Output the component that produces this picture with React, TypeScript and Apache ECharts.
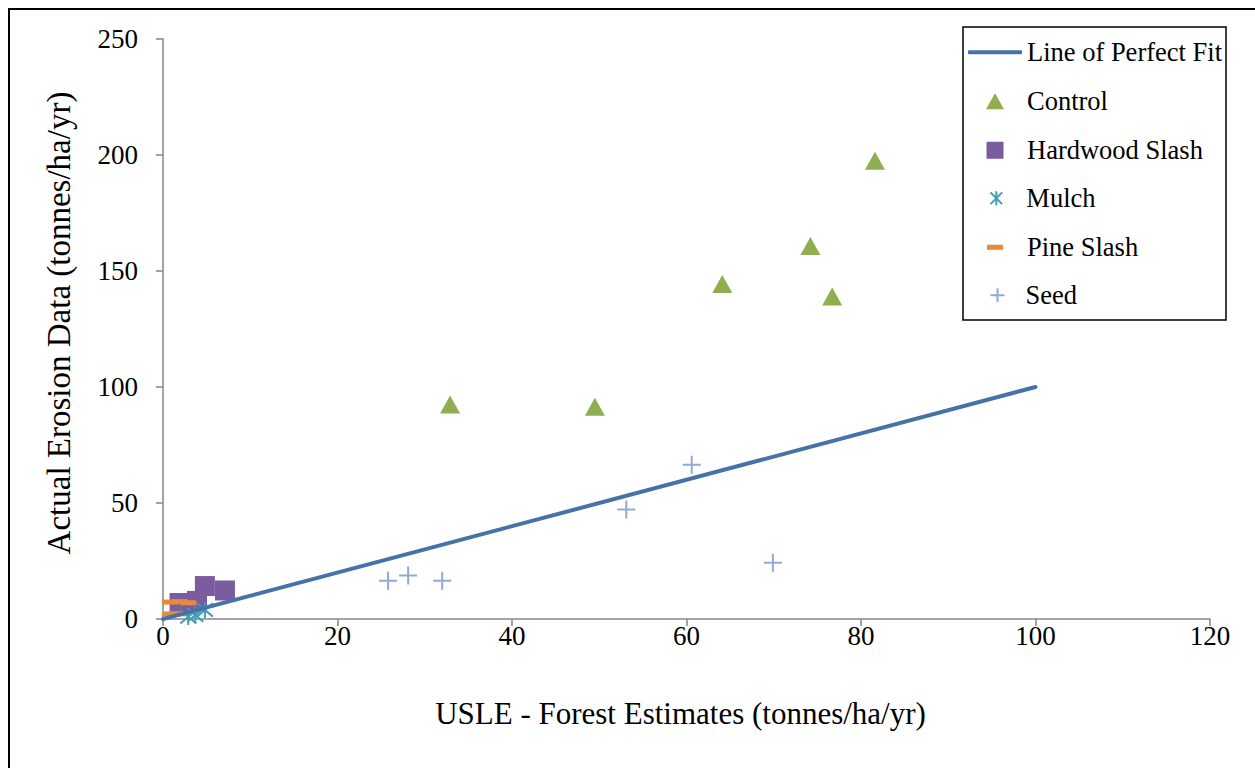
import React, { useEffect, useRef } from "react";
import * as echarts from "echarts";

const fitLine: [number, number][] = [[0, 0], [100, 100]];
const control: [number, number][] = [[32.9, 92.5], [49.5, 91.5], [64.1, 144.4], [74.2, 160.8], [76.7, 139], [81.6, 197.5]];
const hardwood: [number, number][] = [[1.9, 6.9], [3.9, 7.8], [4.8, 14.2], [7.1, 12.3]];
const mulch: [number, number][] = [[2.9, 0.9], [3.7, 1.7], [4.8, 3.9]];
const pine: [number, number][] = [[0.8, 7.3], [1.9, 7.5], [2.9, 7.0], [0.8, 2.2], [1.7, 2.2]];
const seed: [number, number][] = [[25.8, 16.5], [28.1, 18.7], [32.0, 16.5], [53.1, 47.2], [60.6, 66.5], [69.9, 24.2]];

const xTicks = { min: 0, max: 120, interval: 20 };
const yTicks = { min: 0, max: 250, interval: 50 };

const FONT = "'Liberation Serif', 'Times New Roman', serif";
const C_LINE = "#4572A7";
const C_CONTROL = "#8FAE4F";
const C_HARD = "#7B5C9E";
const C_MULCH = "#3F9FB5";
const C_PINE = "#E8893C";
const C_SEED = "#8FAAD6";

const ASTERISK = "path://M0,0L10,10M10,0L0,10M5,-1L5,11";
const PLUS = "path://M5,0L5,10M0,5L10,5";

const LEGEND_CX = 995;
const LEGEND_TEXT_X = 1027;
const LEGEND_FONT = 26.5;

export default function App() {
  const ref = useRef<HTMLDivElement>(null);
  useEffect(() => {
    if (!ref.current) return;
    const chart = echarts.init(ref.current, undefined, { renderer: "svg" });
    const legendItem = (name: string, cy: number, w: number, h: number, icon?: string, dx = 0) => ({
      data: [icon ? { name, icon } : { name }],
      left: LEGEND_CX - w / 2,
      top: cy - LEGEND_FONT / 2,
      orient: "vertical",
      itemWidth: w,
      itemHeight: h,
      padding: 0,
      selectedMode: false,
      textStyle: {
        fontSize: LEGEND_FONT,
        fontFamily: FONT,
        color: "#000",
        padding: [0, 0, 0, LEGEND_TEXT_X - (LEGEND_CX + w / 2) - 5 + dx],
      },
    });
    chart.setOption({
      animation: false,
      backgroundColor: "transparent",
      grid: { left: 163, top: 39, right: 45, bottom: 149 },
      xAxis: {
        type: "value",
        ...xTicks,
        name: "USLE - Forest Estimates (tonnes/ha/yr)",
        nameLocation: "middle",
        nameGap: 79,
        nameTextStyle: { fontSize: 31, fontFamily: FONT, color: "#000", padding: [0, 12, 0, 0] },
        axisLine: { show: true, onZero: false, lineStyle: { color: "#868686", width: 1.5 } },
        axisTick: { show: true, length: 7, lineStyle: { color: "#868686", width: 1.5 } },
        axisLabel: { fontSize: 27, fontFamily: FONT, color: "#000", margin: 3 },
        splitLine: { show: false },
      },
      yAxis: {
        type: "value",
        ...yTicks,
        name: "Actual Erosion Data (tonnes/ha/yr)",
        nameLocation: "middle",
        nameGap: 88,
        nameTextStyle: { fontSize: 33, fontFamily: FONT, color: "#000", padding: [0, 0, 0, 12] },
        axisLine: { show: true, lineStyle: { color: "#868686", width: 1.5 } },
        axisTick: { show: true, length: 7, lineStyle: { color: "#868686", width: 1.5 } },
        axisLabel: { fontSize: 27, fontFamily: FONT, color: "#000", margin: 25 },
        splitLine: { show: false },
      },
      legend: [
        legendItem("Line of Perfect Fit", 52, 54, 4, "roundRect"),
        legendItem("Control", 101, 18, 16),
        legendItem("Hardwood Slash", 150, 17, 17),
        legendItem("Mulch", 198, 14, 14, undefined, -2),
        legendItem("Pine Slash", 247, 16, 5),
        legendItem("Seed", 295, 14, 14, undefined, -4),
      ],
      graphic: [
        {
          type: "rect",
          shape: { x: 963, y: 27, width: 263, height: 293 },
          style: { fill: "#fff", stroke: "#000", lineWidth: 1.5 },
          z: -1,
        },
      ],
      series: [
        {
          name: "Line of Perfect Fit",
          type: "line",
          data: fitLine,
          symbol: "none",
          lineStyle: { color: C_LINE, width: 4, cap: "round" },
          itemStyle: { color: C_LINE },
        },
        {
          name: "Control",
          type: "scatter",
          data: control,
          symbol: "triangle",
          symbolSize: [20, 18],
          itemStyle: { color: C_CONTROL, opacity: 1 },
        },
        {
          name: "Hardwood Slash",
          type: "scatter",
          data: hardwood,
          symbol: "rect",
          symbolSize: 20,
          itemStyle: { color: C_HARD, opacity: 1 },
        },
        {
          name: "Mulch",
          type: "scatter",
          data: mulch,
          symbol: ASTERISK,
          symbolSize: 16,
          itemStyle: { color: "none", borderColor: C_MULCH, borderWidth: 2, opacity: 1 },
        },
        {
          name: "Pine Slash",
          type: "scatter",
          data: pine,
          symbol: "rect",
          symbolSize: [16, 5],
          itemStyle: { color: C_PINE, opacity: 1 },
        },
        {
          name: "Seed",
          type: "scatter",
          data: seed,
          symbol: PLUS,
          symbolSize: 18,
          itemStyle: { color: "none", borderColor: C_SEED, borderWidth: 2, opacity: 1 },
        },
      ],
    });
    return () => chart.dispose();
  }, []);
  return (
    <div style={{ position: "fixed", left: 0, top: 0, right: 0, bottom: 0, overflow: "hidden", background: "#fff" }}>
      <div style={{ position: "absolute", left: 8, top: 8, width: 1300, height: 2, background: "#000" }} />
      <div style={{ position: "absolute", left: 8, top: 8, width: 2, height: 800, background: "#000" }} />
      <div ref={ref} style={{ position: "absolute", left: 0, top: 0, width: 1255, height: 768 }} />
    </div>
  );
}
